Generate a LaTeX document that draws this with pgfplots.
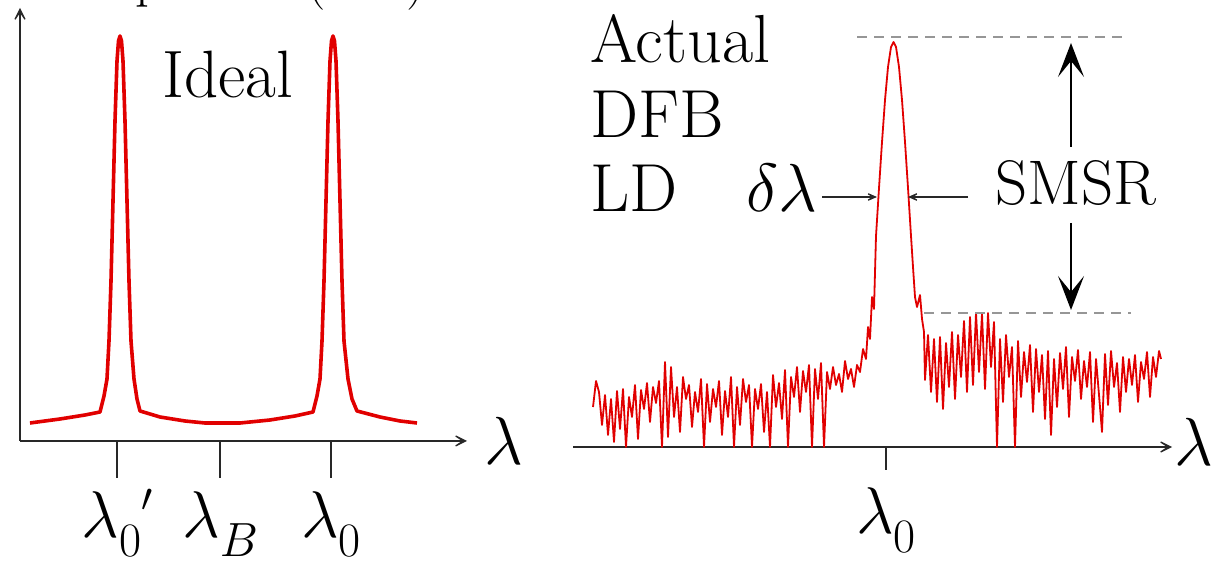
\RequirePackage{fix-cm}
\documentclass[border=0pt]{standalone}
\usepackage{pgfplots}
\pgfplotsset{compat=1.18}
\usetikzlibrary{arrows.meta}
\definecolor{specred}{RGB}{225,0,0}
\definecolor{axgray}{RGB}{40,40,40}
\definecolor{dashgray}{RGB}{150,150,150}
\newcommand{\fs}[1]{\fontsize{#1}{#1}\selectfont}
\newcommand{\lam}{{\fs{33}$\lambda$}}
\newcommand{\sub}[1]{\raisebox{-9.5pt}{\fs{24}#1}}
\newcommand{\prm}{\raisebox{13pt}{\fs{20}$\prime$}}
\begin{document}
\begin{tikzpicture}
\useasboundingbox (0pt,0pt) rectangle (607.5pt,283pt);
% ---------------- left panel: ideal ----------------
\begin{axis}[
  at={(10pt,62.5pt)}, anchor=south west,
  scale only axis, width=223.5pt, height=216.5pt,
  xmin=20, xmax=467, ymin=0, ymax=433,
  axis lines=left,
  axis line style={axgray, line width=1.2pt, -{Stealth[length=10pt,width=10pt,inset=7.5pt]}},
  xtick={117,220,331}, ytick=\empty,
  xticklabels={{\lam\sub{0}\prm},{\lam\sub{$B$}},{\lam\sub{0}}},
  tick align=outside, major tick length=18.5pt,
  tick style={axgray, line width=1.2pt},
  xticklabel style={font=\fs{34}, anchor=base, yshift=-30pt, inner sep=0pt},
  clip=false]
\addplot[specred, line width=1.8pt, line join=round] coordinates {
 (30,18)(60,22)(85,26)(100,29)(104,45)(107,62)(109,100)(111,160)(113,240)(115,320)(117,380)(118.5,400)(120,405)(121.5,400)(123,380)(125,320)(127,240)(129,160)(131,100)(134,62)(137,42)(140,30)
 (160,24)(185,20)(205,18)(240,18)(270,21)(295,25)(313,29)
 (317,45)(320,62)(322,100)(324,160)(326,240)(328,320)(330,380)(331.5,400)(333,405)(334.5,400)(336,380)(338,320)(340,240)(342,160)(344,100)(348,62)(352,42)(357,30)
 (380,24)(400,20)(417,18)
};
\end{axis}
% ---------------- right panel: actual ----------------
\begin{axis}[
  at={(286.5pt,59.5pt)}, anchor=south west,
  scale only axis, width=299.5pt, height=223.5pt,
  xmin=573, xmax=1172, ymin=0, ymax=447,
  axis x line=bottom, axis y line=none,
  axis line style={axgray, line width=1.2pt, -{Stealth[length=10pt,width=10pt,inset=7.5pt]}},
  xtick={886}, ytick=\empty,
  xticklabels={{\lam\sub{0}}},
  tick align=outside, major tick length=11.5pt,
  tick style={axgray, line width=1.2pt},
  xticklabel style={font=\fs{34}, anchor=base, yshift=-32pt, inner sep=0pt},
  clip=false]
\addplot[specred, line width=0.9pt, line join=round] coordinates {
 (593,40)(596,66)(599,55)(602,22)(605,52)(608,12)(611,48)(614,5)(617,56)(620,18)(623,58)(626,0)(629,50)(632,30)(635,62)(638,8)(641,57)(644,38)(647,64)(650,25)(653,60)(656,44)(659,66)(662,0)(665,85)(668,10)(671,80)(674,30)(677,60)(680,15)(683,70)(686,48)(689,62)(692,20)(695,55)(698,35)(701,68)(704,0)(707,63)(710,25)(713,58)(716,40)(719,66)(722,12)(725,56)(728,30)(731,70)(734,0)(737,60)(740,22)(743,68)(746,45)(749,62)(752,0)(755,58)(758,38)(761,63)(764,15)(767,55)(770,0)(773,72)(776,40)(779,64)(782,28)(785,77)(788,0)(791,70)(794,50)(797,80)(800,35)(803,76)(806,55)(809,82)(812,0)(815,78)(818,48)(821,84)(824,0)(827,75)(830,58)(833,80)(836,62)(839,73)(842,55)(845,86)(848,68)(851,78)(854,60)(857,82)(860,75)(863,98)(866,88)(868,120)(870,108)(872,150)(874,138)
 (876,211)(879,259)(882,305)(885,347)(888,380)(891,400)(893.5,405)(896,400)(899,380)(902,347)(905,305)(908,259)(911,211)(913,180)(915,150)(917,140)(920,152)(922,128)(924,115)(925,67)
 (928,112)(931,55)(934,108)(937,45)(940,110)(943,38)(946,104)(949,60)(952,115)(955,48)(958,112)(961,70)(964,126)(967,55)(970,130)(973,62)(976,134)(979,75)(982,133)(985,58)(988,134)(991,80)(994,125)(997,0)(1000,108)(1003,45)(1006,112)(1009,70)(1012,100)(1015,0)(1018,106)(1021,50)(1024,95)(1027,65)(1030,102)(1033,35)(1036,98)(1039,55)(1042,92)(1045,28)(1048,96)(1051,12)(1054,88)(1057,40)(1060,94)(1063,58)(1066,100)(1069,30)(1072,90)(1075,66)(1078,97)(1081,48)(1084,86)(1087,60)(1090,95)(1093,25)(1096,88)(1099,52)(1102,15)(1105,93)(1108,42)(1111,96)(1114,60)(1117,84)(1120,35)(1123,90)(1126,55)(1129,88)(1132,62)(1135,92)(1138,45)(1141,85)(1144,68)(1147,95)(1150,50)(1153,90)(1156,70)(1159,96)(1161,88)
};
% dashed reference levels
\draw[dashgray, line width=1pt, dash pattern=on 5pt off 3.5pt] (axis cs:857,410) -- (axis cs:1123,410);
\draw[dashgray, line width=1pt, dash pattern=on 5pt off 3.5pt] (axis cs:924,134) -- (axis cs:1131,134);
% SMSR arrows
\draw[black, line width=1pt, -{Stealth[length=17pt,width=13pt,inset=8pt]}] (axis cs:1071,300) -- (axis cs:1071,404);
\draw[black, line width=1pt, -{Stealth[length=17pt,width=13pt,inset=8pt]}] (axis cs:1071,224) -- (axis cs:1071,137);
% linewidth arrows
\draw[axgray, line width=0.8pt, -{Stealth[length=8pt,width=7pt,inset=5.5pt]}] (axis cs:822,250) -- (axis cs:877,250);
\draw[axgray, line width=0.8pt, -{Stealth[length=8pt,width=7pt,inset=5.5pt]}] (axis cs:968,250) -- (axis cs:908,250);
\end{axis}
% ---------------- texts ----------------
\node[anchor=base west, inner sep=0pt, font=\fs{27.5}] at (27.5pt,284.5pt) {Amplitude (a.u.)};
\node[anchor=base west, inner sep=0pt, font=\fs{33.5}] at (81pt,234pt) {Ideal};
\node[anchor=base west, inner sep=0pt, font=\fs{34}] at (295pt,251.5pt) {Actual};
\node[anchor=base west, inner sep=0pt, font=\fs{34}] at (295pt,214pt) {DFB};
\node[anchor=base west, inner sep=0pt, font=\fs{34}] at (295pt,177pt) {LD};
\node[anchor=base east, inner sep=0pt, font=\fs{34}] at (409pt,177pt) {$\delta\lambda$};
\node[anchor=base, inner sep=0pt, font=\fs{31.5}] at (538pt,180.5pt) {SMSR};
\node[anchor=base west, inner sep=0pt, font=\fs{34}] at (242pt,50.5pt) {$\lambda$};
\node[anchor=base west, inner sep=0pt, font=\fs{34}] at (587pt,50pt) {$\lambda$};
\end{tikzpicture}
\end{document}
